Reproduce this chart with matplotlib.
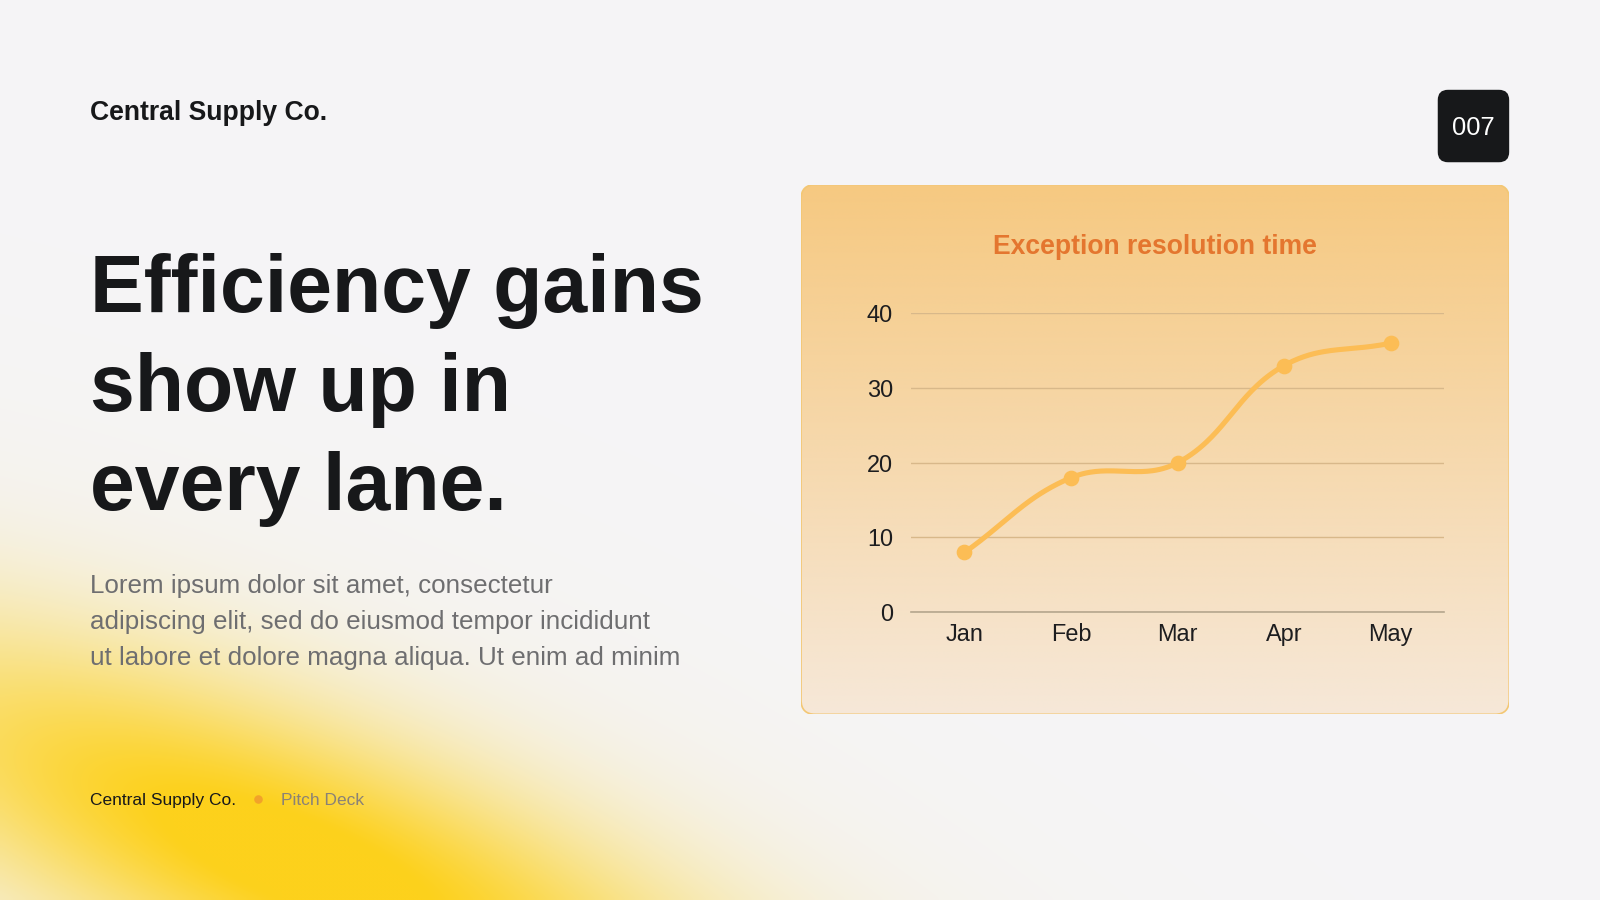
import numpy as np
import matplotlib.pyplot as plt
from matplotlib.patches import FancyBboxPatch
from matplotlib.colors import to_rgb

months = ["Jan", "Feb", "Mar", "Apr", "May"]
resolution_time = [8, 18, 20, 33, 36]
y_ticks = [0, 10, 20, 30, 40]

brand = "Central Supply Co."
deck_label = "Pitch Deck"
page_no = "007"
headline = ["Efficiency gains", "show up in", "every lane."]
body = ["Lorem ipsum dolor sit amet, consectetur",
        "adipiscing elit, sed do eiusmod tempor incididunt",
        "ut labore et dolore magna aliqua. Ut enim ad minim"]
chart_title = "Exception resolution time"

plt.rcParams['font.family'] = ['Liberation Sans', 'DejaVu Sans']

# layout measured on a 1568 x 882 view of the reference
W, H = 1568.0, 882.0


def fx(x):
    return x / W


def fy(y):
    return 1 - y / H


def pt(px):
    # px in the reference view -> points on the 1600 wide figure at dpi 100
    return px * (1600 / W) * 72 / 100


fig = plt.figure(figsize=(16, 9), dpi=100)

# background with yellow glow in the bottom-left
bg = fig.add_axes([0, 0, 1, 1])
bg.set_axis_off()
gx, gy = np.meshgrid(np.linspace(0, W, 400), np.linspace(0, H, 225))
a = np.deg2rad(22)
dx, dy = gx - 290, gy - 845
u = dx * np.cos(a) + dy * np.sin(a)
v = -dx * np.sin(a) + dy * np.cos(a)
q = (u / 330) ** 2 + (v / 95) ** 2
glow = np.clip(1.1 * np.exp(-0.5 * q), 0, 1)
haze = 0.25 * np.exp(-0.5 * (u / 620) ** 2 - 0.5 * (v / 220) ** 2)
base = np.array(to_rgb("#f5f5f7"))
cream = np.array(to_rgb("#f7e9c4"))
yellow = np.array(to_rgb("#fdd11c"))
img = base[None, None, :] * (1 - haze[..., None]) + cream[None, None, :] * haze[..., None]
img = img * (1 - glow[..., None]) + yellow[None, None, :] * glow[..., None]
bg.imshow(img, extent=[0, W, H, 0], aspect='auto', interpolation='bicubic')
bg.set_xlim(0, W)
bg.set_ylim(H, 0)

# header texts
fig.text(fx(88), fy(117.5), brand, fontsize=pt(26), fontweight='bold', color='#17181a',
         ha='left', va='baseline')
for i, line in enumerate(headline):
    fig.text(fx(88), fy(306 + 97 * i), line, fontsize=pt(79), fontweight='bold',
             color='#17181a', ha='left', va='baseline')
for i, line in enumerate(body):
    fig.text(fx(88), fy(581 + 35.5 * i), line, fontsize=pt(25.5), color='#6e6e70',
             ha='left', va='baseline')

# footer
fig.text(fx(88), fy(789), brand, fontsize=pt(17), color='#17181a', ha='left', va='baseline')
fig.text(fx(275), fy(789), deck_label, fontsize=pt(17), color='#8a8276', ha='left', va='baseline')
bg.plot([253], [783], 'o', color='#f2a22a', markersize=pt(7))

# page badge
bg.add_patch(FancyBboxPatch((1409 + 10, 88 + 10), 70 - 20, 71 - 20,
                            boxstyle="round,pad=10", fc='#17181a', ec='none'))
bg.text(1444, 125, page_no, fontsize=pt(25), color='white', ha='center', va='center')

# card with vertical gradient
cx0, cy0, cx1, cy1 = 785, 181, 1479, 700
card_ax = fig.add_axes([fx(cx0), fy(cy1), fx(cx1 - cx0), (cy1 - cy0) / H])
card_ax.set_axis_off()
card_ax.set_xlim(cx0, cx1)
card_ax.set_ylim(cy1, cy0)
top = np.array(to_rgb("#f6c981"))
bot = np.array(to_rgb("#f6e8d8"))
t = np.linspace(0, 1, 256)[:, None, None]
grad = top * (1 - t) + bot * t
grad = np.repeat(grad, 2, axis=1)
im = card_ax.imshow(grad, extent=[cx0, cx1, cy1, cy0], aspect='auto', interpolation='bilinear')
r = 14
card = FancyBboxPatch((cx0 + r, cy0 + r), cx1 - cx0 - 2 * r, cy1 - cy0 - 2 * r,
                      boxstyle="round,pad=%d" % r, fc='none', ec='#f3c774', lw=1.2,
                      transform=card_ax.transData)
card_ax.add_patch(card)
im.set_clip_path(card)

fig.text(fx(1132), fy(242), chart_title, fontsize=pt(26), fontweight='bold',
         color='#e4762f', ha='center', va='center')

# line chart
ax = fig.add_axes([fx(893), fy(600), fx(1415 - 893), (600 - 307) / H])
ax.patch.set_alpha(0)
x = np.arange(len(months))
y = np.array(resolution_time, dtype=float)

# chart.js style spline (tension 0.4) computed in pixel space
sx, sy = 104.25, 293 / 40.0
px_, py_ = x * sx, y * sy
tension = 0.4
cp_prev, cp_next = [], []
for i in range(len(x)):
    p = np.array([px_[i], py_[i]])
    pr = np.array([px_[max(i - 1, 0)], py_[max(i - 1, 0)]])
    nx = np.array([px_[min(i + 1, len(x) - 1)], py_[min(i + 1, len(x) - 1)]])
    d01 = np.hypot(*(p - pr))
    d12 = np.hypot(*(nx - p))
    tot = d01 + d12
    s01 = d01 / tot if tot else 0
    s12 = d12 / tot if tot else 0
    cp_prev.append(p - tension * s01 * (nx - pr))
    cp_next.append(p + tension * s12 * (nx - pr))
curve = []
tt = np.linspace(0, 1, 60)[:, None]
for i in range(len(x) - 1):
    p0 = np.array([px_[i], py_[i]])
    p3 = np.array([px_[i + 1], py_[i + 1]])
    p1, p2 = cp_next[i], cp_prev[i + 1]
    seg = ((1 - tt) ** 3) * p0 + 3 * ((1 - tt) ** 2) * tt * p1 + 3 * (1 - tt) * tt ** 2 * p2 + tt ** 3 * p3
    curve.append(seg)
curve = np.vstack(curve)
ax.plot(curve[:, 0] / sx, curve[:, 1] / sy, color='#fcbd55', lw=pt(5), solid_capstyle='round', zorder=3)
ax.plot(x, y, 'o', color='#fcbd55', markersize=pt(14), zorder=4)

ax.set_xlim(-0.5, len(months) - 0.5)
ax.set_ylim(0, 40)
ax.set_yticks(y_ticks)
ax.set_xticks(x)
ax.set_xticklabels(months)
ax.grid(axis='y', color='#d8b88a', lw=1)
ax.set_axisbelow(True)
for s in ['top', 'right', 'left']:
    ax.spines[s].set_visible(False)
ax.spines['bottom'].set_color('#b5a68e')
ax.spines['bottom'].set_linewidth(1.2)
ax.tick_params(length=0, labelsize=pt(23), labelcolor='#1d1d1f')
ax.tick_params(axis='y', pad=pt(18))
ax.tick_params(axis='x', pad=pt(11))

fig.savefig("out.png", dpi=100)
